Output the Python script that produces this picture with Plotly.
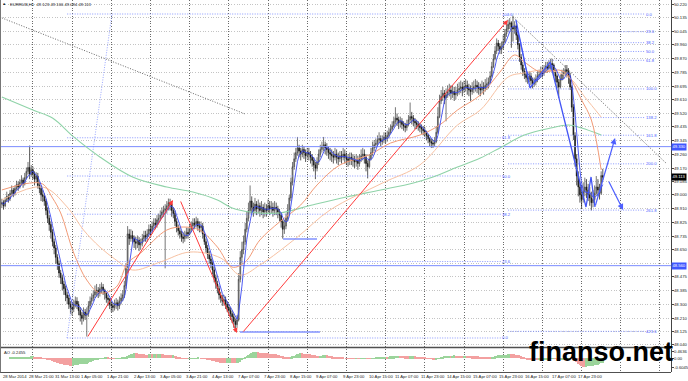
import numpy as np
import pandas as pd
import plotly.graph_objects as go

# ---------------- data ----------------
title_text = "EURRUB,H1  49.123 49.166 49.094 49.113"
ao_text = "AO -0.2455"
watermark_text = "finanso.net"

first_open = 48.940
close = [
    48.950, 48.930, 48.965, 48.990, 48.975, 49.010, 49.030, 49.005, 49.040, 49.065, 49.050, 49.080, 49.095, 49.070, 49.110, 49.150, 49.175, 49.130, 49.160, 49.135,
    49.100, 49.120, 49.060, 49.040, 49.000, 48.990, 48.960, 48.900, 48.850, 48.810, 48.760, 48.700, 48.660, 48.600, 48.560, 48.500, 48.470, 48.430, 48.400, 48.360, 48.340, 48.300, 48.280, 48.270,
    48.300, 48.320, 48.300, 48.260, 48.230, 48.210, 48.250, 48.230, 48.240, 48.290, 48.320, 48.340, 48.360, 48.380, 48.390, 48.370, 48.400, 48.410, 48.390, 48.370, 48.340, 48.330, 48.300, 48.290, 48.280, 48.300, 48.310, 48.290, 48.320, 48.340, 48.360, 48.420,
    48.530, 48.750, 48.720, 48.740, 48.720, 48.700, 48.690, 48.710, 48.680, 48.690, 48.720, 48.740, 48.730, 48.750, 48.780, 48.770, 48.800, 48.820, 48.810, 48.840, 48.850, 48.870, 48.890, 48.900, 48.910, 48.930, 48.950, 48.940, 48.900,
    48.880, 48.830, 48.790, 48.770, 48.750, 48.730, 48.720, 48.740, 48.760, 48.750, 48.780, 48.800, 48.820, 48.810, 48.830, 48.800, 48.790, 48.800, 48.750, 48.700, 48.660, 48.620, 48.590, 48.560, 48.520, 48.470, 48.430, 48.400, 48.360, 48.340, 48.320, 48.330, 48.300, 48.280, 48.260, 48.240, 48.220, 48.190, 48.170, 48.200, 48.460, 48.600,
    48.650, 48.700, 48.780, 48.850, 48.900, 48.960, 48.920, 48.900, 48.940, 48.910, 48.930, 48.900, 48.920, 48.890, 48.910, 48.900, 48.930, 48.910, 48.920, 48.900, 48.920, 48.910, 48.890, 48.870, 48.830, 48.780, 48.800, 48.850, 48.900,
    48.980, 49.080, 49.180, 49.230, 49.270, 49.300, 49.280, 49.260, 49.290, 49.270, 49.250, 49.270, 49.260, 49.240, 49.220, 49.190, 49.170, 49.210, 49.260, 49.290, 49.310, 49.320, 49.300, 49.290, 49.270, 49.260,
    49.250, 49.240, 49.260, 49.240, 49.230, 49.250, 49.240, 49.260, 49.240, 49.230, 49.220, 49.240, 49.230, 49.220, 49.210, 49.220, 49.200, 49.230, 49.250, 49.260, 49.240, 49.200, 49.180, 49.230, 49.270,
    49.300, 49.320, 49.330, 49.350, 49.360, 49.340, 49.350, 49.370, 49.360, 49.380, 49.400, 49.420, 49.440, 49.470, 49.490, 49.480, 49.460, 49.470, 49.450, 49.440, 49.430, 49.450, 49.480, 49.500, 49.490, 49.470, 49.460, 49.450, 49.440, 49.430, 49.420, 49.410, 49.400, 49.380, 49.360, 49.340, 49.330, 49.325, 49.340, 49.400, 49.500,
    49.600, 49.630, 49.650, 49.620, 49.640, 49.660, 49.670, 49.650, 49.660, 49.640, 49.650, 49.670, 49.680, 49.690, 49.670, 49.690, 49.700, 49.680, 49.670, 49.660, 49.680, 49.690, 49.700, 49.690, 49.680, 49.670, 49.690, 49.680, 49.700, 49.710,
    49.720, 49.760, 49.820, 49.870, 49.920, 49.970, 49.950, 49.930, 49.940, 49.980, 50.030, 50.060, 50.090, 50.100, 50.070, 50.060, 50.080, 50.020,
    49.960, 49.880, 49.830, 49.790, 49.770, 49.750, 49.740, 49.760, 49.730, 49.710, 49.720, 49.740, 49.760, 49.770, 49.790, 49.780, 49.800, 49.820, 49.810, 49.830, 49.840, 49.830, 49.790, 49.760, 49.720, 49.690, 49.740, 49.770, 49.780, 49.800, 49.790, 49.760,
    49.690, 49.560, 49.380, 49.230, 49.120, 49.050, 49.000, 48.970, 49.020, 49.050, 49.030, 49.000, 48.980, 48.950, 48.970, 49.010, 49.050, 49.030, 49.010, 49.123, 49.113,
]
high = [
    48.975, 48.965, 48.985, 49.020, 49.005, 49.030, 49.060, 49.045, 49.060, 49.090, 49.085, 49.100, 49.125, 49.110, 49.140, 49.175, 49.210, 49.315, 49.190, 49.180,
    49.150, 49.145, 49.140, 49.080, 49.060, 49.030, 49.010, 48.975, 48.920, 48.870, 48.830, 48.780, 48.720, 48.680, 48.620, 48.580, 48.520, 48.490, 48.450, 48.420, 48.380, 48.360, 48.320, 48.310,
    48.330, 48.350, 48.345, 48.320, 48.280, 48.250, 48.280, 48.270, 48.280, 48.320, 48.350, 48.370, 48.390, 48.420, 48.430, 48.410, 48.430, 48.440, 48.430, 48.400, 48.380, 48.360, 48.340, 48.320, 48.310, 48.330, 48.340, 48.330, 48.350, 48.370, 48.390, 48.450,
    48.560, 48.800, 48.780, 48.780, 48.770, 48.740, 48.730, 48.740, 48.730, 48.720, 48.750, 48.770, 48.770, 48.780, 48.810, 48.810, 48.830, 48.850, 48.850, 48.870, 48.880, 48.900, 48.920, 48.930, 48.940, 48.960, 48.976, 48.975, 48.950,
    48.920, 48.900, 48.850, 48.810, 48.790, 48.770, 48.760, 48.770, 48.790, 48.790, 48.810, 48.830, 48.850, 48.850, 48.860, 48.850, 48.830, 48.830, 48.820, 48.760, 48.720, 48.680, 48.640, 48.610, 48.580, 48.540, 48.490, 48.450, 48.420, 48.380, 48.360, 48.360, 48.350, 48.320, 48.300, 48.280, 48.260, 48.240, 48.210, 48.230, 48.500, 48.640,
    48.700, 48.740, 48.820, 48.890, 48.950, 49.060, 48.990, 48.950, 48.980, 48.960, 48.970, 48.950, 48.960, 48.940, 48.950, 48.940, 48.970, 48.960, 48.960, 48.950, 48.960, 48.950, 48.930, 48.910, 48.890, 48.840, 48.840, 48.880, 48.940,
    49.000, 49.110, 49.210, 49.270, 49.300, 49.370, 49.320, 49.300, 49.320, 49.310, 49.290, 49.300, 49.300, 49.280, 49.260, 49.240, 49.210, 49.240, 49.290, 49.320, 49.340, 49.370, 49.340, 49.330, 49.310, 49.300,
    49.290, 49.280, 49.300, 49.290, 49.270, 49.280, 49.280, 49.300, 49.290, 49.270, 49.260, 49.270, 49.270, 49.260, 49.250, 49.260, 49.250, 49.260, 49.290, 49.300, 49.290, 49.260, 49.220, 49.260, 49.300,
    49.340, 49.350, 49.360, 49.380, 49.400, 49.380, 49.380, 49.400, 49.400, 49.410, 49.430, 49.450, 49.470, 49.500, 49.560, 49.520, 49.500, 49.500, 49.490, 49.470, 49.460, 49.480, 49.510, 49.590, 49.530, 49.510, 49.490, 49.480, 49.470, 49.460, 49.450, 49.440, 49.430, 49.410, 49.390, 49.370, 49.360, 49.350, 49.370, 49.440, 49.560,
    49.640, 49.670, 49.690, 49.670, 49.680, 49.700, 49.710, 49.700, 49.700, 49.690, 49.690, 49.710, 49.720, 49.730, 49.720, 49.730, 49.740, 49.730, 49.710, 49.700, 49.720, 49.730, 49.740, 49.730, 49.720, 49.710, 49.730, 49.720, 49.740, 49.750,
    49.750, 49.790, 49.850, 49.900, 49.950, 50.000, 49.990, 49.970, 49.980, 50.020, 50.060, 50.090, 50.120, 50.130, 50.110, 50.145, 50.110, 50.090,
    50.030, 49.970, 49.900, 49.850, 49.810, 49.790, 49.780, 49.790, 49.780, 49.750, 49.750, 49.770, 49.790, 49.800, 49.820, 49.820, 49.830, 49.850, 49.850, 49.860, 49.870, 49.870, 49.840, 49.800, 49.770, 49.740, 49.770, 49.800, 49.810, 49.830, 49.830, 49.810,
    49.780, 49.700, 49.580, 49.400, 49.260, 49.150, 49.080, 49.060, 49.080, 49.110, 49.100, 49.070, 49.050, 49.020, 49.030, 49.060, 49.120, 49.100, 49.070, 49.150, 49.166,
]
low = [
    48.915, 48.905, 48.920, 48.955, 48.950, 48.960, 48.995, 48.985, 48.995, 49.030, 49.025, 49.040, 49.060, 49.045, 49.060, 49.100, 49.130, 49.100, 49.115, 49.100,
    49.060, 49.080, 49.040, 49.010, 48.960, 48.955, 48.930, 48.870, 48.820, 48.770, 48.720, 48.670, 48.620, 48.560, 48.520, 48.470, 48.430, 48.390, 48.360, 48.320, 48.300, 48.270, 48.240, 48.230,
    48.250, 48.280, 48.270, 48.230, 48.190, 48.170, 48.190, 48.200, 48.094, 48.220, 48.270, 48.300, 48.320, 48.340, 48.350, 48.340, 48.350, 48.370, 48.360, 48.330, 48.310, 48.290, 48.270, 48.250, 48.250, 48.260, 48.270, 48.260, 48.270, 48.300, 48.320, 48.340,
    48.400, 48.500, 48.680, 48.700, 48.690, 48.660, 48.650, 48.660, 48.640, 48.650, 48.670, 48.700, 48.700, 48.700, 48.730, 48.740, 48.750, 48.780, 48.780, 48.790, 48.810, 48.830, 48.850, 48.860, 48.530, 48.880, 48.900, 48.900, 48.860,
    48.850, 48.800, 48.760, 48.740, 48.720, 48.700, 48.690, 48.700, 48.720, 48.720, 48.740, 48.760, 48.780, 48.780, 48.790, 48.770, 48.760, 48.760, 48.720, 48.680, 48.630, 48.590, 48.560, 48.530, 48.490, 48.440, 48.400, 48.370, 48.330, 48.310, 48.290, 48.290, 48.270, 48.250, 48.230, 48.200, 48.180, 48.150, 48.126, 48.150, 48.190, 48.440,
    48.560, 48.620, 48.680, 48.760, 48.830, 48.880, 48.880, 48.860, 48.880, 48.870, 48.880, 48.860, 48.870, 48.850, 48.860, 48.860, 48.880, 48.870, 48.880, 48.860, 48.870, 48.870, 48.850, 48.830, 48.790, 48.720, 48.750, 48.780, 48.830,
    48.880, 48.960, 49.060, 49.160, 49.210, 49.250, 49.240, 49.220, 49.240, 49.230, 49.210, 49.230, 49.220, 49.200, 49.180, 49.150, 49.100, 49.150, 49.190, 49.240, 49.270, 49.280, 49.260, 49.250, 49.230, 49.220,
    49.210, 49.200, 49.220, 49.200, 49.190, 49.210, 49.200, 49.220, 49.200, 49.190, 49.180, 49.190, 49.190, 49.180, 49.170, 49.180, 49.160, 49.180, 49.210, 49.220, 49.200, 49.150, 49.105, 49.170, 49.220,
    49.250, 49.280, 49.300, 49.310, 49.330, 49.310, 49.320, 49.330, 49.330, 49.340, 49.360, 49.390, 49.410, 49.430, 49.450, 49.440, 49.420, 49.430, 49.420, 49.410, 49.400, 49.410, 49.440, 49.460, 49.450, 49.440, 49.420, 49.420, 49.410, 49.400, 49.390, 49.380, 49.370, 49.350, 49.330, 49.310, 49.300, 49.300, 49.310, 49.330, 49.390,
    49.490, 49.580, 49.600, 49.580, 49.470, 49.620, 49.630, 49.610, 49.620, 49.600, 49.610, 49.630, 49.640, 49.650, 49.630, 49.650, 49.660, 49.640, 49.630, 49.600, 49.640, 49.650, 49.660, 49.650, 49.640, 49.630, 49.650, 49.640, 49.660, 49.670,
    49.680, 49.710, 49.750, 49.810, 49.860, 49.900, 49.920, 49.900, 49.900, 49.930, 49.970, 50.010, 50.040, 50.060, 49.940, 49.980, 50.030, 49.990,
    49.930, 49.850, 49.800, 49.760, 49.740, 49.720, 49.710, 49.720, 49.700, 49.680, 49.690, 49.700, 49.720, 49.740, 49.750, 49.750, 49.760, 49.780, 49.780, 49.790, 49.800, 49.790, 49.750, 49.720, 49.680, 49.620, 49.680, 49.730, 49.740, 49.760, 49.750, 49.710,
    49.670, 49.530, 49.350, 49.180, 49.060, 48.990, 48.950, 48.912, 48.950, 48.990, 48.980, 48.960, 48.930, 48.900, 48.920, 48.950, 49.000, 48.990, 48.970, 49.000, 49.094,
]

time_labels = ["28 Mar 2014", "28 Mar 21:00", "31 Mar 13:00", "1 Apr 05:00", "1 Apr 21:00", "2 Apr 13:00",
               "3 Apr 05:00", "3 Apr 21:00", "4 Apr 13:00", "7 Apr 07:00", "7 Apr 23:00", "8 Apr 15:00",
               "9 Apr 07:00", "9 Apr 23:00", "10 Apr 15:00", "11 Apr 07:00", "11 Apr 23:00", "14 Apr 15:00",
               "15 Apr 07:00", "15 Apr 23:00", "16 Apr 15:00", "17 Apr 07:00", "17 Apr 23:00"]
label_every = 16
first_midnight_bar = 19
bars_per_day = 24

price_ticks = [50.220, 50.135, 50.045, 49.960, 49.870, 49.785, 49.695, 49.610, 49.520, 49.435, 49.345,
               49.260, 49.170, 49.085, 49.000, 48.910, 48.825, 48.735, 48.650, 48.560, 48.475, 48.385,
               48.300, 48.210, 48.125, 48.040]
ao_ticks = [0.4636, 0.0, -0.6045]
ao_tick_text = ["0.4636", "0.00", "-0.6045"]

# moving averages
green_bar = [0, 19, 31, 44, 60, 80, 101, 117, 132, 141, 152, 170, 190, 211, 232, 252, 264, 279, 293, 306, 320, 336, 347, 355, 367]
green_val = [49.625, 49.542, 49.491, 49.370, 49.242, 49.114, 49.050, 49.018, 48.967, 48.916, 48.890, 48.884, 48.935,
             48.986, 49.031, 49.076, 49.114, 49.178, 49.235, 49.306, 49.382, 49.427, 49.446, 49.427, 49.382]
ofast_bar = [0, 17, 25, 31, 36, 44, 52, 60, 70, 77, 85, 101, 111, 121, 132, 141, 149, 158, 170, 183, 193, 207, 225,
             238, 256, 268, 279, 293, 305, 314, 320, 330, 341, 346, 355, 361, 367]
ofast_val = [49.031, 49.075, 49.069, 48.980, 48.884, 48.628, 48.455, 48.372, 48.410, 48.564, 48.628, 48.775, 48.794,
             48.775, 48.666, 48.538, 48.570, 48.711, 48.826, 48.935, 49.063, 49.191, 49.255, 49.331, 49.382, 49.446,
             49.542, 49.638, 49.785, 49.894, 49.849, 49.785, 49.798, 49.772, 49.606, 49.478, 49.159]
oslow_bar = [0, 25, 40, 50, 60, 70, 80, 97, 115, 134, 146, 158, 181, 201, 233, 256, 279, 293, 310, 320, 333, 347, 357, 367]
oslow_val = [48.967, 49.050, 48.922, 48.775, 48.666, 48.583, 48.519, 48.570, 48.634, 48.596, 48.487, 48.551, 48.730,
             48.903, 49.075, 49.191, 49.446, 49.542, 49.753, 49.779, 49.798, 49.753, 49.625, 49.497]

# Fibonacci objects
fib_big_bars = [40, 305.6]
fib_big_lo, fib_big_hi = 48.0845, 50.156
fib_big_levels = [0.0, 23.6, 38.2, 50.0, 61.8, 100.0]
fib_small_bars = [310, 394]
fib_small_hi, fib_small_lo = 50.156, 49.677
fib_small_levels = [0.0, 23.6, 38.2, 50.0, 61.8, 100.0, 138.2, 161.8, 200.0, 261.8, 423.6]
fib_trend_bar = [39.9, 67.4]
fib_trend_val = [48.0845, 50.156]

# trend lines
gray_lines_bar = [[0, 148.9], [313, 406.7]]
gray_lines_val = [[50.131, 49.517], [50.137, 49.203]]
red_arrows_bar = [[52.1, 104.8], [109.1, 144.0], [147.1, 309.9]]
red_arrows_val = [[48.0845, 48.967], [48.967, 48.116], [48.116, 50.118]]
wave_bar = [314.8, 323.4, 335.7, 357.7, 360.8, 363.2]
wave_val = [50.118, 49.683, 49.849, 48.922, 49.114, 48.922]
blue_arrows_bar = [[363.2, 375.5], [371.2, 380.4]]
blue_arrows_val = [[48.922, 49.363], [49.095, 48.903]]
blue_short_bar = [[145.8, 194.8], [172.2, 193.0]]
blue_short_val = [48.123, 48.717]
blue_levels = [49.308, 48.547]
blue_level_text = ["49.330", "48.560"]
last_price = 49.113

# ---------------- derived ----------------
n = min(len(close), len(high), len(low))
close = close[:n]
bars = list(range(n))
opens = [first_open] + close[:-1]
hi = [max(h, o, c) for h, o, c in zip(high[:n], opens, close)]
lo = [min(l, o, c) for l, o, c in zip(low[:n], opens, close)]

fast_ma = pd.Series(close).rolling(5, min_periods=1).mean()
med = pd.Series((np.array(hi) + np.array(lo)) / 2)
ao = (med.rolling(5, min_periods=1).mean() - med.rolling(34, min_periods=1).mean()).values
ao_colors = ['#9bd49b' if i > 0 and ao[i] >= ao[i - 1] else '#f3a0a0' for i in range(n)]

grid_bars = list(range(first_midnight_bar, 410, bars_per_day))
label_bars = [i * label_every for i in range(len(time_labels))]

# ---------------- geometry ----------------
W, H = 688, 381
X_END = 671 / W
LBL_X = 673 / W
X_RANGE = [-1.145, 409.76]
MAIN_BOT = (H - 347) / H
AO_TOP = (H - 349) / H
AO_BOT = (H - 372) / H
Y_RANGE = [48.0269, 50.2456]
AO_RANGE = [-0.93, 0.60]
FONT = "Liberation Sans"
TS = 4.2

fig = go.Figure()

# fib lines
fx, fy = [], []
for r in fib_big_levels:
    v = fib_big_lo + (fib_big_hi - fib_big_lo) * r / 100
    fx += [fib_big_bars[0], fib_big_bars[1], None]
    fy += [v, v, None]
for r in fib_small_levels:
    v = fib_small_hi - (fib_small_hi - fib_small_lo) * r / 100
    fx += [fib_small_bars[0], fib_small_bars[1], None]
    fy += [v, v, None]
fig.add_trace(go.Scatter(x=fx, y=fy, mode='lines', line=dict(color='#6d7fff', width=0.8, dash='1px,1.5px'),
                         hoverinfo='skip', showlegend=False))
fig.add_trace(go.Scatter(x=fib_trend_bar, y=fib_trend_val, mode='lines',
                         line=dict(color='#8090ff', width=0.8, dash='1px,1.5px'), hoverinfo='skip', showlegend=False))

# full-width blue levels
for v in blue_levels:
    fig.add_trace(go.Scatter(x=[X_RANGE[0], X_RANGE[1]], y=[v, v], mode='lines',
                             line=dict(color='#7b8cff', width=1), hoverinfo='skip', showlegend=False))

# gray dotted trend lines
for bx, by in zip(gray_lines_bar, gray_lines_val):
    fig.add_trace(go.Scatter(x=bx, y=by, mode='lines', line=dict(color='#555555', width=0.9, dash='1px,1.6px'),
                             hoverinfo='skip', showlegend=False))

# moving averages behind candles
fig.add_trace(go.Scatter(x=green_bar, y=green_val, mode='lines', line=dict(color='#8fd3a8', width=1.1, shape='spline'),
                         hoverinfo='skip', showlegend=False))
fig.add_trace(go.Scatter(x=oslow_bar, y=oslow_val, mode='lines', line=dict(color='#f7c1a2', width=1, shape='spline'),
                         hoverinfo='skip', showlegend=False))
fig.add_trace(go.Scatter(x=ofast_bar, y=ofast_val, mode='lines', line=dict(color='#f29a76', width=1, shape='spline'),
                         hoverinfo='skip', showlegend=False))

# candles
fig.add_trace(go.Candlestick(x=bars, open=opens, high=hi, low=lo, close=close,
                             increasing=dict(line=dict(color='#3c3c3c', width=0.7), fillcolor='#b4b4b4'),
                             decreasing=dict(line=dict(color='#111111', width=0.7), fillcolor='#111111'),
                             whiskerwidth=0, showlegend=False, hoverinfo='skip'))

fig.add_trace(go.Scatter(x=bars, y=fast_ma, mode='lines', line=dict(color='#3a48f0', width=0.9),
                         hoverinfo='skip', showlegend=False))

# wave drawing on the last decline
fig.add_trace(go.Scatter(x=wave_bar, y=wave_val, mode='lines', line=dict(color='#4456f5', width=1.3),
                         hoverinfo='skip', showlegend=False))

# short blue lines
for bx, v in zip(blue_short_bar, blue_short_val):
    fig.add_trace(go.Scatter(x=bx, y=[v, v], mode='lines', line=dict(color='#8292ff', width=1.6),
                             hoverinfo='skip', showlegend=False))

# AO histogram
fig.add_trace(go.Bar(x=bars, y=ao, marker=dict(color=ao_colors, line=dict(width=0)), width=0.9,
                     xaxis='x2', yaxis='y2', hoverinfo='skip', showlegend=False))

annotations = []
for bx, by in zip(red_arrows_bar, red_arrows_val):
    annotations.append(dict(x=bx[1], y=by[1], ax=bx[0], ay=by[0], xref='x', yref='y', axref='x', ayref='y',
                            text='', showarrow=True, arrowhead=2, arrowsize=1, arrowwidth=1, arrowcolor='#ff3b3b'))
for bx, by in zip(blue_arrows_bar, blue_arrows_val):
    annotations.append(dict(x=bx[1], y=by[1], ax=bx[0], ay=by[0], xref='x', yref='y', axref='x', ayref='y',
                            text='', showarrow=True, arrowhead=2, arrowsize=1, arrowwidth=1.2, arrowcolor='#4d5fff'))

small = dict(family=FONT, size=TS, color='#222')
fibfont = dict(family=FONT, size=TS, color='#4a5cff')

# fib labels
for r in fib_big_levels:
    v = fib_big_lo + (fib_big_hi - fib_big_lo) * r / 100
    annotations.append(dict(x=fib_big_bars[1], y=v, xref='x', yref='y', text=f"{r:.1f}", showarrow=False,
                            xanchor='left', yanchor='middle', borderpad=0, font=fibfont))
for r in fib_small_levels:
    v = fib_small_hi - (fib_small_hi - fib_small_lo) * r / 100
    annotations.append(dict(x=fib_small_bars[1], y=v, xref='x', yref='y', text=f"{r:.1f}", showarrow=False,
                            xanchor='left', yanchor='middle', borderpad=0, font=fibfont))

# price axis labels (the ones hidden under a highlighted marker are skipped)
for v in price_ticks:
    if any(abs(v - b) < 0.02 for b in blue_levels + [last_price]):
        continue
    annotations.append(dict(x=LBL_X, y=v, xref='paper', yref='y', text=f"{v:.3f}", showarrow=False,
                            xanchor='left', yanchor='middle', borderpad=0, font=small))
for v, t in zip(ao_ticks, ao_tick_text):
    annotations.append(dict(x=LBL_X, y=v, xref='paper', yref='y2', text=t, showarrow=False,
                            xanchor='left', yanchor='middle', borderpad=0, font=small))

# time labels
for b, t in zip(label_bars, time_labels):
    annotations.append(dict(x=b, y=(H - 376) / H, xref='x', yref='paper', text=t, showarrow=False,
                            xanchor='left', yanchor='middle', borderpad=0, font=small))

# price markers on axis
for v, t in zip(blue_levels, blue_level_text):
    annotations.append(dict(x=(W - 1) / W, y=v, xref='paper', yref='y', text=t, showarrow=False, xanchor='right',
                            yanchor='middle', bgcolor='#3f57ff', borderpad=0.4,
                            font=dict(family=FONT, size=TS, color='white')))
annotations.append(dict(x=(W - 1) / W, y=last_price, xref='paper', yref='y', text=f"{last_price:.3f}",
                        showarrow=False, xanchor='right', yanchor='middle', bgcolor='#000000', borderpad=0.4,
                        font=dict(family=FONT, size=TS, color='white')))

annotations.append(dict(x=9 / W, y=1 - 4 / H, xref='paper', yref='paper', text=title_text, showarrow=False,
                        xanchor='left', yanchor='middle', borderpad=0, font=small))
annotations.append(dict(x=2 / W, y=1 - 4 / H, xref='paper', yref='paper', text='\u25aa', showarrow=False,
                        xanchor='left', yanchor='middle', borderpad=0, font=dict(family=FONT, size=6, color='#000')))
annotations.append(dict(x=3 / W, y=(H - 352.5) / H, xref='paper', yref='paper', text=ao_text, showarrow=False,
                        xanchor='left', yanchor='middle', borderpad=0, font=small))
annotations.append(dict(x=601 / W, y=(H - 352) / H, xref='paper', yref='paper', text=watermark_text,
                        showarrow=False, xanchor='center', yanchor='middle', borderpad=0,
                        font=dict(family=FONT, size=27, color='#000000', weight='bold')))

shapes = [
    dict(type='line', xref='paper', yref='paper', x0=0, x1=X_END, y0=(H - 347.5) / H, y1=(H - 347.5) / H,
         line=dict(color='#505050', width=1.3)),
    dict(type='line', xref='paper', yref='paper', x0=0, x1=X_END, y0=(H - 372.5) / H, y1=(H - 372.5) / H,
         line=dict(color='#505050', width=1)),
    dict(type='line', xref='paper', yref='paper', x0=0.5 / W, x1=0.5 / W, y0=(H - 372.5) / H, y1=1,
         line=dict(color='#777777', width=1)),
]

grid_axis = dict(range=X_RANGE, domain=[0, X_END], tickvals=grid_bars, showticklabels=False, ticks='',
                 showgrid=True, gridcolor='#6a6a6a', griddash='1px,1.6px', gridwidth=0.8, zeroline=False,
                 showline=False, fixedrange=True)

fig.update_layout(
    width=W, height=H, margin=dict(l=0, r=0, t=0, b=0),
    paper_bgcolor='white', plot_bgcolor='white', bargap=0,
    font=dict(family=FONT, size=TS, color='#222'),
    xaxis=dict(**grid_axis, anchor='y', rangeslider=dict(visible=False)),
    xaxis2=dict(**grid_axis, anchor='y2', matches='x'),
    yaxis=dict(domain=[MAIN_BOT, 1], range=Y_RANGE, side='right', anchor='x', tickvals=price_ticks,
               showticklabels=False, ticks='outside', ticklen=2, tickcolor='#444', showgrid=True,
               gridcolor='#c4c4c4', griddash='1px,1.6px', gridwidth=0.8, showline=True, linecolor='#444',
               linewidth=1, zeroline=False, fixedrange=True),
    yaxis2=dict(domain=[AO_BOT, AO_TOP], range=AO_RANGE, side='right', anchor='x2', tickvals=ao_ticks,
                showticklabels=False, ticks='outside', ticklen=2, tickcolor='#444', showgrid=False,
                showline=True, linecolor='#444', linewidth=1, zeroline=False, fixedrange=True),
    annotations=annotations, shapes=shapes,
)

fig.write_html("out.html", config={'displayModeBar': False},
               post_script="document.documentElement.style.margin='0';document.body.style.margin='0';"
                           "document.body.style.overflow='hidden';")
